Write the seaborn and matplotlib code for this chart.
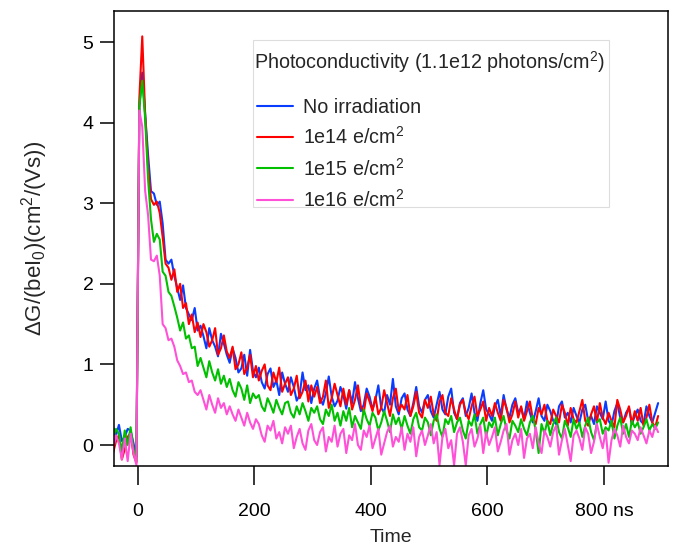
import numpy as np
import pandas as pd
import matplotlib.pyplot as plt
import seaborn as sns
from matplotlib.patches import Rectangle

# time axis in ns (5 ns sampling)
time_ns = np.arange(-42, 898, 5)

# photoconductivity transients (10 points = 50 ns per row)
no_irr = [
    0.22, 0.12, 0.25, 0.05, 0.10, 0.20, 0.18, 0.02, -0.15, 4.20,
    4.62, 4.10, 3.60, 3.15, 3.12, 2.98, 3.02, 2.75, 2.30, 2.25,
    2.30, 2.10, 1.95, 1.80, 1.98, 1.70, 1.62, 1.55, 1.70, 1.42,
    1.48, 1.35, 1.20, 1.45, 1.30, 1.22, 1.10, 1.38, 1.26, 1.12,
    1.02, 1.20, 1.08, 0.90, 0.95, 1.12, 0.86, 1.18, 0.92, 0.84,
    0.96, 0.78, 0.70, 0.88, 0.95, 0.72, 0.80, 0.62, 0.90, 0.76,
    0.66, 0.84, 0.72, 0.55, 0.62, 0.90, 0.68, 0.74, 0.52, 0.70,
    0.80, 0.58, 0.50, 0.64, 0.85, 0.60, 0.48, 0.55, 0.72, 0.62,
    0.45, 0.68, 0.52, 0.78, 0.58, 0.42, 0.50, 0.70, 0.60, 0.44,
    0.56, 0.74, 0.46, 0.40, 0.62, 0.50, 0.82, 0.48, 0.38, 0.58,
    0.64, 0.44, 0.36, 0.52, 0.72, 0.48, 0.40, 0.56, 0.62, 0.42,
    0.34, 0.50, 0.66, 0.44, 0.38, 0.60, 0.70, 0.40, 0.32, 0.52,
    0.58, 0.36, 0.46, 0.64, 0.40, 0.30, 0.52, 0.68, 0.44, 0.38,
    0.30, 0.48, 0.56, 0.36, 0.62, 0.44, 0.34, 0.50, 0.58, 0.40,
    0.46, 0.32, 0.54, 0.40, 0.28, 0.42, 0.58, 0.36, 0.30, 0.50,
    0.42, 0.30, 0.26, 0.48, 0.54, 0.34, 0.40, 0.28, 0.46, 0.36,
    0.28, 0.44, 0.50, 0.30, 0.36, 0.26, 0.48, 0.40, 0.32, 0.54,
    0.30, 0.24, 0.42, 0.52, 0.34, 0.28, 0.40, 0.46, 0.26, 0.36,
    0.44, 0.30, 0.26, 0.48, 0.36, 0.28, 0.40, 0.52,
]
e14 = [
    -0.10, 0.05, 0.12, -0.18, -0.05, 0.10, 0.15, -0.12, -0.22, 4.30,
    5.07, 4.10, 3.45, 3.05, 2.98, 3.02, 2.88, 2.58, 2.25, 2.20,
    2.05, 2.18, 1.90, 2.00, 1.70, 1.76, 1.50, 1.62, 1.40, 1.52,
    1.34, 1.50, 1.40, 1.22, 1.30, 1.45, 1.12, 1.20, 1.36, 1.16,
    1.08, 1.22, 0.94, 1.00, 1.15, 0.88, 0.96, 1.12, 0.84, 0.98,
    0.80, 0.92, 1.00, 0.74, 0.68, 0.90, 0.78, 0.96, 0.66, 0.76,
    0.84, 0.62, 0.70, 0.86, 0.58, 0.66, 0.80, 0.54, 0.74, 0.60,
    0.72, 0.52, 0.60, 0.80, 0.46, 0.58, 0.76, 0.62, 0.48, 0.70,
    0.50, 0.68, 0.44, 0.56, 0.74, 0.48, 0.40, 0.64, 0.54, 0.42,
    0.60, 0.38, 0.46, 0.68, 0.52, 0.36, 0.58, 0.70, 0.42, 0.50,
    0.44, 0.62, 0.36, 0.48, 0.66, 0.40, 0.34, 0.56, 0.46, 0.60,
    0.38, 0.30, 0.54, 0.62, 0.40, 0.36, 0.58, 0.44, 0.32, 0.50,
    0.56, 0.40, 0.32, 0.48, 0.60, 0.36, 0.44, 0.54, 0.30, 0.46,
    0.36, 0.52, 0.40, 0.30, 0.56, 0.46, 0.28, 0.38, 0.54, 0.34,
    0.48, 0.30, 0.42, 0.54, 0.32, 0.26, 0.46, 0.38, 0.50, 0.30,
    0.26, 0.44, 0.36, 0.28, 0.50, 0.40, 0.24, 0.46, 0.32, 0.28,
    0.42, 0.56, 0.30, 0.24, 0.38, 0.48, 0.28, 0.52, 0.34, 0.26,
    0.40, 0.30, 0.22, 0.56, 0.44, 0.28, 0.36, 0.48, 0.26, 0.42,
    0.30, 0.46, 0.24, 0.34, 0.50, 0.28, 0.22, 0.36,
]
e15 = [
    0.10, 0.20, 0.14, -0.08, 0.18, 0.00, 0.22, -0.05, -0.20, 4.20,
    4.52, 4.05, 3.30, 2.80, 2.52, 2.62, 2.55, 2.15, 2.10, 1.90,
    1.85, 1.72, 1.58, 1.42, 1.52, 1.32, 1.36, 1.20, 1.22, 0.98,
    1.08, 0.96, 0.84, 1.04, 0.90, 0.80, 0.94, 0.76, 0.86, 0.72,
    0.82, 0.68, 0.60, 0.78, 0.70, 0.56, 0.74, 0.52, 0.64, 0.58,
    0.62, 0.48, 0.42, 0.58, 0.50, 0.40, 0.56, 0.46, 0.38, 0.52,
    0.54, 0.40, 0.34, 0.48, 0.38, 0.52, 0.42, 0.30, 0.46, 0.40,
    0.48, 0.32, 0.26, 0.44, 0.36, 0.50, 0.30, 0.40, 0.24, 0.42,
    0.30, 0.46, 0.22, 0.36, 0.28, 0.20, 0.44, 0.32, 0.24, 0.40,
    0.34, 0.18, 0.28, 0.42, 0.30, 0.16, 0.38, 0.26, 0.34, 0.20,
    0.36, 0.24, 0.14, 0.32, 0.40, 0.22, 0.18, 0.34, 0.28, 0.12,
    0.30, 0.38, 0.20, 0.10, 0.32, 0.26, 0.36, 0.16, 0.28, 0.34,
    0.18, 0.08, 0.30, 0.24, 0.38, 0.14, 0.26, 0.34, 0.10, 0.28,
    0.22, 0.34, 0.12, 0.26, 0.36, 0.18, 0.08, 0.30, 0.24, 0.16,
    0.32, 0.20, 0.12, 0.28, 0.36, 0.18, -0.10, 0.26, 0.14, 0.30,
    0.12, 0.26, 0.34, 0.16, 0.08, 0.30, 0.22, 0.10, 0.32, 0.20,
    0.28, 0.10, 0.24, 0.34, 0.16, 0.06, 0.28, 0.32, 0.14, 0.22,
    0.18, 0.30, 0.08, 0.24, 0.34, 0.14, 0.26, 0.10, 0.30, 0.22,
    0.28, 0.14, 0.22, 0.32, 0.18, 0.26, 0.20, 0.28,
]
e16 = [
    -0.05, 0.12, 0.02, -0.18, 0.08, -0.20, 0.14, -0.10, -0.25, 4.15,
    3.95, 3.15, 2.85, 2.30, 2.28, 2.35, 2.10, 1.50, 1.45, 1.30,
    1.32, 1.22, 1.05, 0.98, 0.88, 0.90, 0.78, 0.80, 0.66, 0.62,
    0.68, 0.56, 0.44, 0.62, 0.50, 0.40, 0.58, 0.46, 0.52, 0.38,
    0.48, 0.38, 0.30, 0.44, 0.34, 0.24, 0.40, 0.28, 0.20, 0.32,
    0.26, 0.12, 0.04, 0.24, 0.18, 0.30, 0.08, 0.16, 0.02, 0.22,
    0.14, 0.24, -0.04, 0.10, 0.20, 0.02, -0.06, 0.18, 0.26, 0.06,
    0.00, 0.16, 0.22, -0.08, 0.10, 0.04, 0.24, -0.02, 0.14, 0.20,
    -0.10, 0.12, 0.06, 0.26, 0.00, -0.06, 0.18, 0.10, 0.24, -0.04,
    0.08, 0.20, -0.12, 0.02, 0.16, 0.24, -0.02, 0.10, 0.04, 0.22,
    -0.06, 0.14, 0.04, 0.22, -0.14, 0.10, 0.18, 0.00, 0.12, 0.26,
    0.02, 0.16, -0.25, 0.10, 0.20, -0.04, 0.06, -0.25, 0.14, 0.22,
    0.04, -0.25, 0.12, 0.20, -0.02, 0.08, 0.24, -0.10, 0.16, 0.00,
    0.10, 0.22, -0.08, 0.04, 0.18, 0.26, -0.12, 0.06, 0.14, 0.00,
    0.20, -0.16, 0.08, 0.14, -0.04, 0.22, 0.02, -0.10, 0.18, 0.10,
    -0.02, 0.16, 0.24, -0.12, 0.06, 0.20, 0.00, -0.20, 0.12, 0.18,
    0.08, -0.06, 0.22, 0.14, -0.10, 0.04, 0.26, 0.10, -0.04, 0.18,
    -0.22, 0.06, 0.20, 0.12, -0.02, 0.24, 0.10, 0.02, 0.18, 0.14,
    0.06, 0.22, 0.12, 0.02, 0.18, 0.10, 0.24, 0.16,
]

series_names = ["No irradiation", "1e14 e/cm$^2$", "1e15 e/cm$^2$", "1e16 e/cm$^2$"]
series_vals = [no_irr, e14, e15, e16]
colors = ["#0a3cff", "#ff0000", "#00c000", "#ff50d8"]

df = pd.concat(
    [pd.DataFrame({"t": time_ns, "dG": v, "sample": name})
     for name, v in zip(series_names, series_vals)],
    ignore_index=True,
)

sns.set_theme(style="ticks")
plt.rcParams["font.family"] = ["Liberation Sans", "DejaVu Sans"]
plt.rcParams["mathtext.fontset"] = "custom"
plt.rcParams["mathtext.rm"] = "Liberation Sans"
plt.rcParams["mathtext.it"] = "Liberation Sans:italic"

fig = plt.figure(figsize=(6.73, 5.47), dpi=100)
ax = fig.add_axes([0.1698, 0.1486, 0.8228, 0.8313])

sns.lineplot(data=df, x="t", y="dG", hue="sample", palette=colors,
             estimator=None, sort=False, lw=1.5, ax=ax)

ax.set_xlim(-40, 910)
ax.set_ylim(-0.257, 5.385)
ax.set_xticks([0, 200, 400, 600, 800])
ax.set_xticklabels(["0", "200", "400", "600", "800 ns"])
ax.set_yticks([0, 1, 2, 3, 4, 5])

for s in ax.spines.values():
    s.set_visible(True)
    s.set_color("black")
    s.set_linewidth(1.1)

ax.tick_params(axis="x", direction="out", length=13.5, width=1.1, pad=13,
               labelsize=14, colors="black")
ax.tick_params(axis="y", direction="out", length=10, width=1.1, pad=5,
               labelsize=14, colors="black")

ax.set_xlabel("Time", fontsize=14, labelpad=7)
ax.set_ylabel("ΔG/(beI$_0$)(cm$^2$/(Vs))", fontsize=16, labelpad=23)

# legend: light frame, title line, then the four entries
ax.add_patch(Rectangle((0.2505, 0.569), 0.6429, 0.3672, transform=ax.transAxes,
                       facecolor="white", edgecolor="#dddddd", lw=0.8, zorder=4))
ax.text(0.2523, 0.8878, "Photoconductivity (1.1e12 photons/cm$^2$)",
        transform=ax.transAxes, ha="left", va="center", fontsize=14.2, zorder=6)
leg = ax.legend(
    loc="upper left", bbox_to_anchor=(0.2577, 0.8087), borderaxespad=0,
    fontsize=14.2, frameon=False, borderpad=0,
    handlelength=1.83, handletextpad=0.51, labelspacing=0.47,
)
leg.set_zorder(6)
for line in leg.get_lines():
    line.set_linewidth(1.5)

fig.savefig("out.png", dpi=100)
